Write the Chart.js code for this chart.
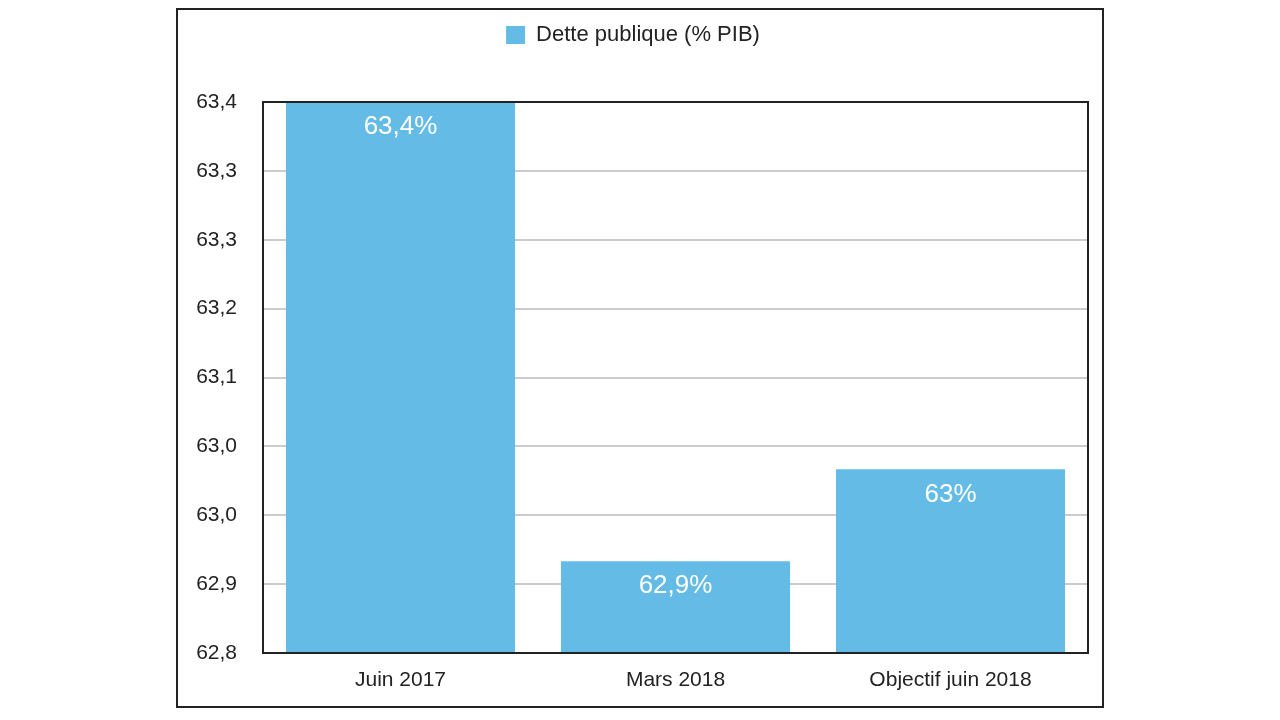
<!DOCTYPE html>
<html>
<head>
<meta charset="utf-8">
<script src="https://cdn.jsdelivr.net/npm/chart.js@4.4.1/dist/chart.umd.min.js"></script>
<style>
body { margin: 0; background: #fff; }
#box { position: absolute; left: 176px; top: 8px; width: 924px; height: 696px; border: 2px solid #222; }
</style>
</head>
<body>
<div id="box"><canvas id="chart" width="924" height="696"></canvas></div>
<script>
var categories = ['Juin 2017', 'Mars 2018', 'Objectif juin 2018'];
var detteValues = [63.4, 62.9, 63.0];
var valueLabels = ['63,4%', '62,9%', '63%'];
var yTickLabels = ['62,8', '62,9', '63,0', '63,0', '63,1', '63,2', '63,3', '63,3', '63,4'];

var fontFamily = '"Liberation Sans", Arial, sans-serif';

// labels inside the bars + black frame round the plot
var barExtras = {
  id: 'barExtras',
  beforeLayout: function(chart){
    if (chart.legend && !chart.legend._patched) {
      var fit = chart.legend.fit;
      chart.legend.fit = function(){
        fit.call(this);
        this.height = 92;
      };
      chart.legend._patched = true;
    }
  },
  afterDatasetsDraw: function(chart){
    var ctx = chart.ctx,
      a = chart.chartArea,
      meta = chart.getDatasetMeta(0);
    ctx.save();
    ctx.font = '26px ' + fontFamily;
    ctx.fillStyle = '#ffffff';
    ctx.textAlign = 'center';
    ctx.textBaseline = 'middle';
    for (var i = 0; i < meta.data.length; i++) {
      ctx.fillText(valueLabels[i], meta.data[i].x, meta.data[i].y + 25);
    }
    ctx.strokeStyle = '#222';
    ctx.lineWidth = 2;
    ctx.strokeRect(a.left, a.top, a.right - a.left, a.bottom - a.top);
    ctx.restore();
  }
};

new Chart(document.getElementById('chart').getContext('2d'), {
  type: 'bar',
  data: {
    labels: categories,
    datasets: [{
      label: 'Dette publique (% PIB)',
      data: detteValues,
      backgroundColor: '#63bbe6',
      borderWidth: 0,
      categoryPercentage: 1,
      barPercentage: 0.833
    }]
  },
  options: {
    responsive: false,
    animation: false,
    layout: { padding: { top: 0, right: 14, bottom: 0, left: 0 } },
    plugins: {
      tooltip: { enabled: false },
      legend: {
        position: 'top',
        labels: {
          boxWidth: 19,
          boxHeight: 18,
          padding: 14,
          color: '#222',
          font: { family: fontFamily, size: 22 }
        }
      }
    },
    scales: {
      x: {
        grid: { display: false, drawTicks: false },
        border: { color: '#222', width: 2 },
        ticks: { color: '#222', padding: 15, font: { family: fontFamily, size: 21 } },
        afterFit: function(scale){ scale.height = 53; }
      },
      y: {
        min: 62.8,
        max: 63.4,
        grid: { color: '#cccccc', lineWidth: 2, drawTicks: false },
        border: { color: '#222', width: 2 },
        ticks: {
          stepSize: 0.075,
          color: '#222',
          padding: 26,
          font: { family: fontFamily, size: 21 },
          callback: function(value, index){ return yTickLabels[index]; }
        },
        afterFit: function(scale){ scale.width = 85; }
      }
    }
  },
  plugins: [barExtras]
});
</script>
</body>
</html>
